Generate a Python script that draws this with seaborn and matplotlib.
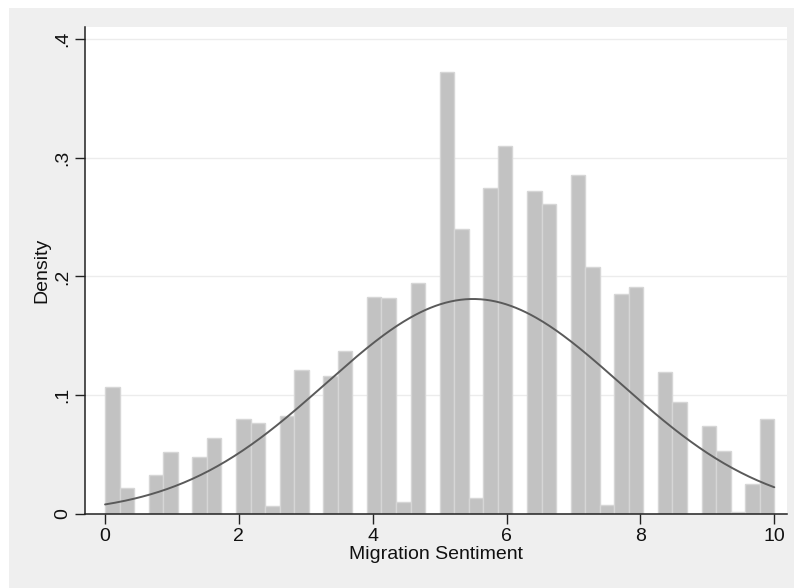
import numpy as np
import pandas as pd
import matplotlib
matplotlib.use("Agg")
import matplotlib.pyplot as plt
from matplotlib.patches import Rectangle
import seaborn as sns

# Histogram: 46 equal-width bins on [0, 10], density heights per bin
bin_lo = 0.0
bin_hi = 10.0
n_bins = 46
density = [0.107, 0.0216, 0.0, 0.0329, 0.0525, 0.0, 0.0477, 0.0637, 0.0, 0.080,
           0.0764, 0.0067, 0.0826, 0.1213, 0.0, 0.116, 0.1376, 0.0, 0.1826, 0.182,
           0.0104, 0.1943, 0.0, 0.3718, 0.2398, 0.0138, 0.2744, 0.3095, 0.0, 0.2721,
           0.2612, 0.0, 0.2856, 0.2081, 0.0076, 0.1853, 0.191, 0.0, 0.1199, 0.0941,
           0.0, 0.0744, 0.0531, 0.0015, 0.025, 0.080]
# Normal overlay parameters
norm_mean = 5.5
norm_sd = 2.204

x_ticks = [0, 2, 4, 6, 8, 10]
y_ticks = [0, 0.1, 0.2, 0.3, 0.4]
y_tick_labels = ["0", ".1", ".2", ".3", ".4"]
x_label = "Migration Sentiment"
y_label = "Density"

sns.set_theme(style="white")
plt.rcParams['font.family'] = ['Liberation Sans', 'DejaVu Sans']

edges = list(np.linspace(bin_lo, bin_hi, n_bins + 1))
centers = [(edges[i] + edges[i + 1]) / 2 for i in range(n_bins)]
df = pd.DataFrame({"x": centers, "w": density})

xs = np.linspace(bin_lo, bin_hi, 400)
ys = np.exp(-0.5 * ((xs - norm_mean) / norm_sd) ** 2) / (norm_sd * np.sqrt(2 * np.pi))
curve = pd.DataFrame({"x": xs, "y": ys})

fig = plt.figure(figsize=(7.94, 5.88), dpi=100)
fig.patch.set_facecolor("white")
fig.patches.append(Rectangle((9 / 794, 0), 1, 1 - 8 / 588, transform=fig.transFigure,
                             facecolor="#efefef", edgecolor="none", zorder=-10))
ax = fig.add_axes([85 / 794, 1 - 514 / 588, (787 - 85) / 794, (514 - 27) / 588])
ax.set_facecolor("white")

sns.histplot(data=df, x="x", weights="w", bins=edges, stat="count",
             color="#c2c2c2", edgecolor="#d6d6d6", linewidth=1.0, alpha=1.0, ax=ax)
sns.lineplot(data=curve, x="x", y="y", color="#5a5a5a", linewidth=1.4, ax=ax)

fs = 14
ax.set_xlim(-0.3, 10.19)
ax.set_ylim(0, 0.41)
ax.set_xticks(x_ticks)
ax.set_xticklabels([str(t) for t in x_ticks], fontsize=fs)
ax.set_yticks(y_ticks)
ax.set_yticklabels(y_tick_labels, fontsize=fs, rotation=90, va="center")
ax.set_xlabel(x_label, fontsize=fs, labelpad=1, color="#111111")
ax.set_ylabel(y_label, fontsize=fs, labelpad=3, color="#111111")
for y in y_ticks[1:]:
    ax.axhline(y, color="#ececec", linewidth=1.0, zorder=0.5)
ax.tick_params(axis="both", which="both", direction="out", length=7, width=1.0,
               color="#222222", bottom=True, left=True, pad=3, labelcolor="#111111")
for s in ["top", "right"]:
    ax.spines[s].set_visible(False)
for s in ["left", "bottom"]:
    ax.spines[s].set_color("#222222")
    ax.spines[s].set_linewidth(1.1)
    ax.spines[s].set_zorder(5)

fig.savefig("out.png", dpi=100, facecolor=fig.get_facecolor())
